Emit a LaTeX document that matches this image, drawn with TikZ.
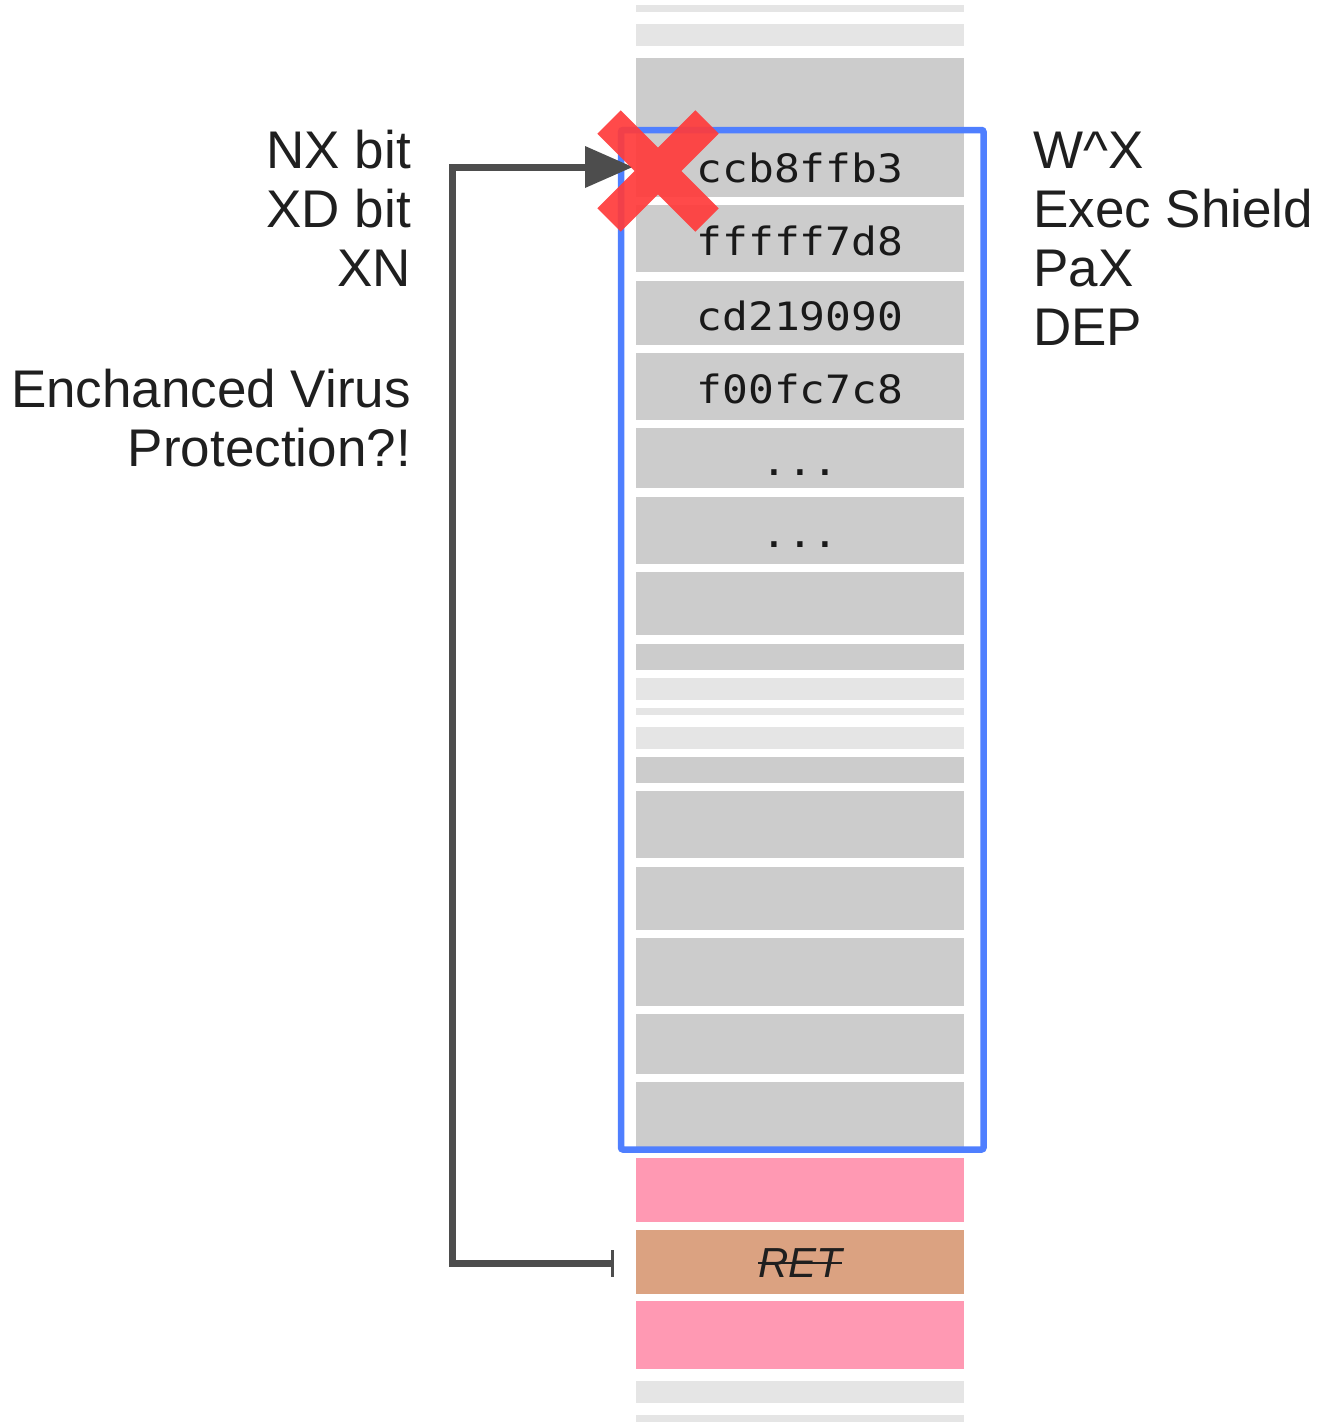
\documentclass[tikz,border=0pt]{standalone}
\usepackage{fontspec}
\setmainfont{Liberation Sans}
\newfontfamily\hexfont[FakeStretch=1.1]{DejaVu Sans Mono}
\usetikzlibrary{arrows.meta}

\definecolor{cellgray}{HTML}{CCCCCC}
\definecolor{celllight}{HTML}{E5E5E5}
\definecolor{cellpink}{HTML}{FF99B3}
\definecolor{celltan}{HTML}{DBA281}
\definecolor{frameblue}{HTML}{4F7FFF}
\definecolor{linkgray}{HTML}{4D4D4D}
\definecolor{crossred}{HTML}{FF3B3B}

% one stack cell: style, name, top y, bottom y, text
\newcommand\stackcell[5]{%
  \node[#1, minimum height={#4-#3}] (#2) at (800,#3) {#5};}
% struck-through italic label
\newcommand\struck[1]{{\itshape\setbox0\hbox{#1}\rlap{\copy0}\rule[0.31em]{\wd0}{2pt}}}

\tikzset{
  cellbase/.style={rectangle, anchor=north, inner sep=0pt, outer sep=0pt,
                   minimum width=328pt, draw=none},
  dark/.style={cellbase, fill=cellgray},
  pale/.style={cellbase, fill=celllight},
  pinkcell/.style={cellbase, fill=cellpink},
  retcell/.style={cellbase, fill=celltan, font=\fontsize{42}{42}\selectfont,
                  text height=30pt, text depth=0pt, text=black!88},
  hex/.style={dark, font=\hexfont\fontsize{39}{39}\selectfont,
              text height=34pt, text depth=0pt, text=black!90},
  label/.style={font=\fontsize{53}{59}\selectfont, text=black!88, inner sep=0pt},
  link/.style={draw=linkgray, line width=7pt,
               {Bar[width=27pt,line width=3pt]}-{Triangle[length=48pt,width=40pt]}},
}

\begin{document}
\begin{tikzpicture}[x=1pt, y=-1pt]
\useasboundingbox (0,0) rectangle (1320,1422);

% the stack
\stackcell{pale}{s1}{5}{12}{}
\stackcell{pale}{s2}{24}{46}{}
\stackcell{dark}{s3}{58}{127}{}
\stackcell{hex}{c1}{133}{197}{ccb8ffb3}
\stackcell{hex}{c2}{205}{272}{fffff7d8}
\stackcell{hex}{c3}{281}{345}{cd219090}
\stackcell{hex}{c4}{353}{420}{f00fc7c8}
\stackcell{hex}{c5}{428}{488}{...}
\stackcell{hex}{c6}{497}{564}{...}
\stackcell{dark}{c7}{572}{635}{}
\stackcell{dark}{c8}{644}{670}{}
\stackcell{pale}{c9}{678}{700}{}
\stackcell{pale}{c10}{708}{715}{}
\stackcell{pale}{c11}{727}{749}{}
\stackcell{dark}{c12}{757}{783}{}
\stackcell{dark}{c13}{791}{858}{}
\stackcell{dark}{c14}{867}{930}{}
\stackcell{dark}{c15}{938}{1006}{}
\stackcell{dark}{c16}{1014}{1074}{}
\stackcell{dark}{c17}{1082}{1150}{}
\stackcell{pinkcell}{p1}{1158}{1222}{}
\stackcell{retcell}{ret}{1230}{1294}{\struck{RET}}
\stackcell{pinkcell}{p2}{1301}{1369}{}
\stackcell{pale}{s4}{1381}{1403}{}
\stackcell{pale}{s5}{1415}{1440}{}

% non-executable region
\node[draw=frameblue, line width=6.5pt, rounded corners=2pt, inner sep=0pt, outer sep=0pt,
      minimum width=362.5pt, minimum height=1019.5pt, anchor=north west]
  (nxframe) at (621,130) {};

% jump from the overwritten return address into the stack
\coordinate (tail) at ([xshift=-22pt,yshift=-1.5pt]ret.west);
\coordinate (tip) at ([xshift=-3pt,yshift=-2pt]c1.west);
\draw[link] (tail) -- ++(-161.5,0) |- (tip);

% blocked
\draw[crossred, opacity=0.92, line width=33pt, line cap=butt]
  (609,122) -- (707,220) (707,122) -- (609,220);

% hardware names
\node[label, anchor=base east] (nx) at (411,168) {NX bit};
\node[label, anchor=base east] (xd) at (411,227) {XD bit};
\node[label, anchor=base east] (xn) at (411,286) {XN};
\node[label, anchor=base east] (evp1) at (411,407) {Enchanced Virus};
\node[label, anchor=base east] (evp2) at (411,466) {Protection?!};

% software names
\node[label, anchor=base west] (wx) at (1033,168) {W\^{}X};
\node[label, anchor=base west] (es) at (1033,227) {Exec Shield};
\node[label, anchor=base west] (pax) at (1033,286) {PaX};
\node[label, anchor=base west] (dep) at (1033,345) {DEP};
\end{tikzpicture}
\end{document}
